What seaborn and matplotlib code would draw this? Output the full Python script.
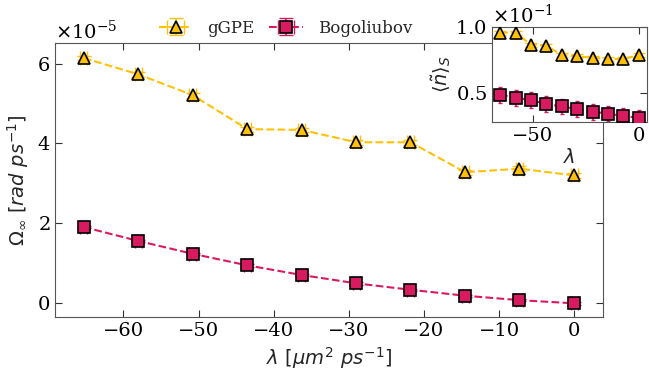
import numpy as np
import pandas as pd
import seaborn as sns
import matplotlib.pyplot as plt

sns.set_style("ticks")
plt.rcParams["font.family"] = ["DejaVu Serif"]
plt.rcParams["mathtext.fontset"] = "dejavusans"
plt.rcParams["axes.edgecolor"] = "#555555"
plt.rcParams["xtick.color"] = "#333333"
plt.rcParams["ytick.color"] = "#333333"
plt.rcParams["xtick.labelcolor"] = "black"
plt.rcParams["ytick.labelcolor"] = "black"

# data
lam = [-65.3, -58.0, -50.8, -43.5, -36.3, -29.0, -21.8, -14.5, -7.3, 0.0]
omega_ggpe = np.array([6.14, 5.73, 5.21, 4.36, 4.34, 4.03, 4.03, 3.28, 3.37, 3.20]) * 1e-5
omega_bog = np.array([1.91, 1.56, 1.24, 0.95, 0.71, 0.50, 0.34, 0.19, 0.08, 0.0]) * 1e-5
omega_ggpe_err = np.array([0.06, 0.06, 0.06, 0.06, 0.06, 0.06, 0.06, 0.06, 0.06, 0.06]) * 1e-5
omega_bog_err = np.array([0.03, 0.03, 0.03, 0.03, 0.03, 0.03, 0.03, 0.03, 0.03, 0.03]) * 1e-5
n_ggpe = np.array([0.96, 0.96, 0.87, 0.86, 0.79, 0.78, 0.77, 0.76, 0.76, 0.79]) * 0.1
n_bog = np.array([0.49, 0.467, 0.447, 0.42, 0.40, 0.38, 0.36, 0.346, 0.326, 0.316]) * 0.1
n_ggpe_err = np.array([0.015] * 10) * 0.1
n_bog_err = np.array([0.06] * 10) * 0.1

c_ggpe = "#FFC107"
c_bog = "#D81B60"

df = pd.DataFrame({"lam": lam, "ggpe": omega_ggpe, "bog": omega_bog,
                   "n_ggpe": n_ggpe, "n_bog": n_bog})

fig = plt.figure(figsize=(6.49, 3.75), dpi=100)
ax = fig.add_axes([0.0847, 0.1547, 0.8443, 0.7303])


def draw(axis, col, err, color, marker, ms, cap=5):
    sns.lineplot(data=df, x="lam", y=col, ax=axis, color=color, linestyle="--",
                 linewidth=1.5, marker=marker, markersize=ms, markeredgecolor="black",
                 markeredgewidth=1.2, zorder=3, legend=False)
    eb = axis.errorbar(df["lam"], df[col], yerr=err, xerr=0.5, fmt="none",
                       ecolor=color, elinewidth=1.2, capsize=cap, zorder=2)
    return eb


eb1 = draw(ax, "ggpe", omega_ggpe_err, c_ggpe, "^", 9)
eb2 = draw(ax, "bog", omega_bog_err, c_bog, "s", 8)

ax.set_xlabel(r"$\lambda\ [\mu m^2\ ps^{-1}]$", fontsize=14)
ax.set_ylabel(r"$\Omega_\infty\ [rad\ ps^{-1}]$", fontsize=14)
ax.set_xticks([-60, -50, -40, -30, -20, -10, 0])
ax.set_yticks(np.array([0, 2, 4, 6]) * 1e-5)
ax.ticklabel_format(axis="y", style="sci", scilimits=(-5, -5), useMathText=True)
ax.yaxis.get_offset_text().set_fontsize(14)
ax.tick_params(direction="in", top=True, right=True, labelsize=14, length=5)

h1 = plt.Line2D([], [], color=c_ggpe, linestyle="--", marker="^", markersize=9,
                markeredgecolor="black", markeredgewidth=1.2)
h2 = plt.Line2D([], [], color=c_bog, linestyle="--", marker="s", markersize=8,
                markeredgecolor="black", markeredgewidth=1.2)
fig.legend([(eb1, h1), (eb2, h2)], ["gGPE", "Bogoliubov"], ncol=2, frameon=False,
           loc="center", bbox_to_anchor=(0.44, 0.925), fontsize=12,
           handlelength=2.0, handletextpad=0.9, columnspacing=0.9)

# inset
axin = fig.add_axes([0.758, 0.675, 0.239, 0.253])
draw(axin, "n_ggpe", n_ggpe_err, c_ggpe, "^", 9, cap=4)
draw(axin, "n_bog", n_bog_err, c_bog, "s", 8, cap=1.5)
axin.set_xticks([-50, 0])
axin.set_yticks([0.05, 0.1])
axin.set_ylim(0.0283, 0.1003)
axin.ticklabel_format(axis="y", style="sci", scilimits=(-1, -1), useMathText=True)
axin.yaxis.get_offset_text().set_fontsize(14)
axin.set_xlabel(r"$\lambda$", fontsize=14, labelpad=2)
axin.set_ylabel(r"$\langle\tilde{n}\rangle_S$", fontsize=14, labelpad=2)
axin.tick_params(direction="in", top=True, right=True, labelsize=14, length=5)

fig.savefig("out.png", dpi=100)
